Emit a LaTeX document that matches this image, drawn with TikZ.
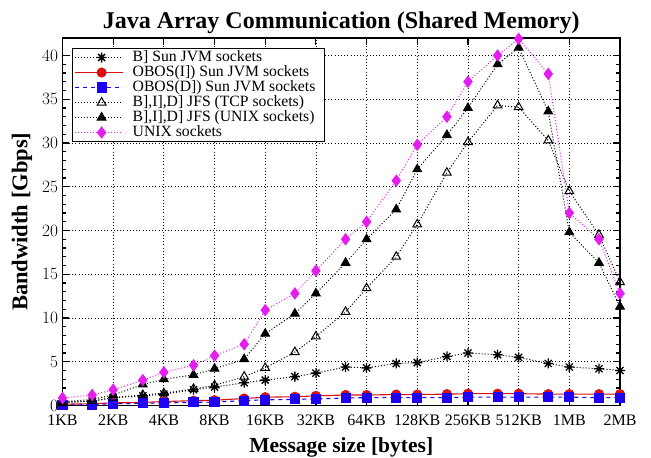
\documentclass[tikz,border=0pt]{standalone}
\usepackage{fontspec}
\setmainfont{Liberation Serif}
\usepackage{tikz}
\usepackage{pgfplots}
\pgfplotsset{compat=1.18}
\usetikzlibrary{plotmarks}

\definecolor{obosred}{RGB}{214,18,18}
\definecolor{obosblue}{RGB}{30,0,245}
\definecolor{unixmag}{RGB}{228,30,238}

\pgfdeclareplotmark{gpstar}{%
  \pgfpathmoveto{\pgfqpoint{-\pgfplotmarksize}{0pt}}\pgfpathlineto{\pgfqpoint{\pgfplotmarksize}{0pt}}%
  \pgfpathmoveto{\pgfqpoint{0pt}{-\pgfplotmarksize}}\pgfpathlineto{\pgfqpoint{0pt}{\pgfplotmarksize}}%
  \pgfpathmoveto{\pgfqpoint{-.707\pgfplotmarksize}{-.707\pgfplotmarksize}}\pgfpathlineto{\pgfqpoint{.707\pgfplotmarksize}{.707\pgfplotmarksize}}%
  \pgfpathmoveto{\pgfqpoint{-.707\pgfplotmarksize}{.707\pgfplotmarksize}}\pgfpathlineto{\pgfqpoint{.707\pgfplotmarksize}{-.707\pgfplotmarksize}}%
  \pgfusepathqstroke}
\newcommand{\legtext}[1]{\makebox[190pt][l]{#1}}

\begin{document}
\begin{tikzpicture}[
  dotline/.style={dash pattern=on 1pt off 2pt, line width=1pt},
  jvmsock/.style={black, dotline, mark=gpstar, mark size=5pt, mark options={solid, line width=1.3pt}},
  obosi/.style={obosred, solid, line width=1.1pt, mark=*, mark size=4.5pt, mark options={solid, fill=obosred}},
  obosd/.style={obosblue, dash pattern=on 4pt off 4pt, line width=1.1pt, mark=square*, mark size=4.5pt, mark options={solid, fill=obosblue}},
  jfstcp/.style={black, dotline, mark=triangle, mark size=5pt, mark options={solid, line width=1pt}},
  jfsunix/.style={black, dotline, mark=triangle*, mark size=5pt, mark options={solid, fill=black}},
  unixsock/.style={unixmag, dotline, mark=diamond*, mark size=5.5pt, mark options={solid, fill=unixmag}},
]
\useasboundingbox (0,0) rectangle (651pt,458pt);
\begin{axis}[
  at={(62.5pt,52.5pt)}, anchor=south west,
  scale only axis, width=557.5pt, height=367.5pt,
  xmode=log, log basis x=2, xmin=1, xmax=2048,
  ymin=0, ymax=42, clip=false,
  xtick={1,2,4,8,16,32,64,128,256,512,1024,2048},
  xticklabels={1KB,2KB,4KB,8KB,16KB,32KB,64KB,128KB,256KB,512KB,1MB,2MB},
  ytick={0,5,...,40}, minor y tick num=4, minor x tick num=0,
  tick align=inside, major tick length=7pt, minor tick length=4pt,
  every tick/.style={black, line width=1.1pt},
  axis line style={line width=1.6pt},
  grid=major,
  major grid style={black, dash pattern=on 1pt off 2.2pt, line width=0.8pt},
  tick label style={font=\fontsize{16}{16}\selectfont},
  xticklabel style={yshift=-6pt},
  yticklabel style={xshift=-1pt},
  title={Java Array Communication (Shared Memory)},
  every axis title/.style={at={(axis description cs:0.5,1)}, anchor=base, yshift=9pt, font=\bfseries\fontsize{24}{24}\selectfont},
  xlabel={Message size [bytes]},
  every axis x label/.style={at={(axis description cs:0.5,0)}, anchor=base, yshift=-46.5pt, font=\bfseries\fontsize{21.5}{21.5}\selectfont},
  ylabel={Bandwidth [Gbps]},
  every axis y label/.style={at={(axis description cs:-0.0628,0.5)}, rotate=90, anchor=base, font=\bfseries\fontsize{22.5}{22.5}\selectfont},
  legend image code/.code={\draw[mark repeat=2, mark phase=2, #1] plot coordinates {(0pt,0pt) (27pt,0pt) (48pt,0pt)};},
  legend cell align=left,
  legend style={at={(axis description cs:0.0170,0.9730)}, anchor=north west, draw=black, line width=1.2pt, fill=white,
    font=\fontsize{15.7}{15.7}\selectfont, inner xsep=1.5pt, inner ysep=1.5pt, row sep=0pt, column sep=9pt,
    nodes={inner sep=0.5pt, text height=10.5pt, text depth=3.5pt}},
]
\addplot[jvmsock] coordinates {(1,0.4) (1.5,0.5) (2,0.9) (3,1.1) (4,1.3) (6,1.8) (8,2.1) (12,2.6) (16,2.9) (24,3.3) (32,3.7) (48,4.4)
  (64,4.3) (96,4.8) (128,4.9) (192,5.6) (256,6.0) (384,5.8) (512,5.5) (768,4.8) (1024,4.4) (1536,4.2) (2048,4.0)};
\addlegendentry{\legtext{B] Sun JVM sockets}}
\addplot[obosi] coordinates {(1,0.15) (1.5,0.2) (2,0.3) (3,0.35) (4,0.45) (6,0.55) (8,0.6) (12,0.8) (16,0.95) (24,1.0) (32,1.1) (48,1.2)
  (64,1.2) (96,1.25) (128,1.25) (192,1.3) (256,1.35) (384,1.35) (512,1.35) (768,1.3) (1024,1.3) (1536,1.3) (2048,1.3)};
\addlegendentry{\legtext{OBOS(I]) Sun JVM sockets}}
\addplot[obosd] coordinates {(1,0.05) (1.5,0.1) (2,0.2) (3,0.25) (4,0.3) (6,0.35) (8,0.4) (12,0.55) (16,0.65) (24,0.7) (32,0.75) (48,0.85)
  (64,0.9) (96,0.9) (128,0.9) (192,0.9) (256,0.95) (384,0.95) (512,0.95) (768,0.95) (1024,0.95) (1536,0.9) (2048,0.9)};
\addlegendentry{\legtext{OBOS(D]) Sun JVM sockets}}
\addplot[jfstcp] coordinates {(1,0.3) (1.5,0.5) (2,0.9) (3,1.2) (4,1.4) (6,1.9) (8,2.3) (12,3.3) (16,4.3) (24,6.1) (32,7.9) (48,10.7)
  (64,13.4) (96,17.0) (128,20.7) (192,26.6) (256,30.1) (384,34.3) (512,34.1) (768,30.3) (1024,24.5) (1536,19.5) (2048,14.1)};
\addlegendentry{\legtext{B],I],D] JFS (TCP sockets)}}
\addplot[jfsunix] coordinates {(1,0.4) (1.5,0.7) (2,1.2) (3,2.4) (4,3.0) (6,3.5) (8,4.2) (12,5.3) (16,8.2) (24,10.5) (32,12.8) (48,16.3)
  (64,19.0) (96,22.4) (128,27.0) (192,30.9) (256,34.0) (384,39.0) (512,40.9) (768,33.6) (1024,19.8) (1536,16.3) (2048,11.3)};
\addlegendentry{\legtext{B],I],D] JFS (UNIX sockets)}}
\addplot[unixsock] coordinates {(1,0.85) (1.5,1.2) (2,1.8) (3,2.9) (4,3.8) (6,4.6) (8,5.7) (12,7.0) (16,10.9) (24,12.8) (32,15.4) (48,19.0)
  (64,21.0) (96,25.7) (128,29.8) (192,33.0) (256,37.0) (384,40.0) (512,41.9) (768,37.9) (1024,22.0) (1536,19.0) (2048,12.8)};
\addlegendentry{\legtext{UNIX sockets}}
\end{axis}
\end{tikzpicture}
\end{document}
